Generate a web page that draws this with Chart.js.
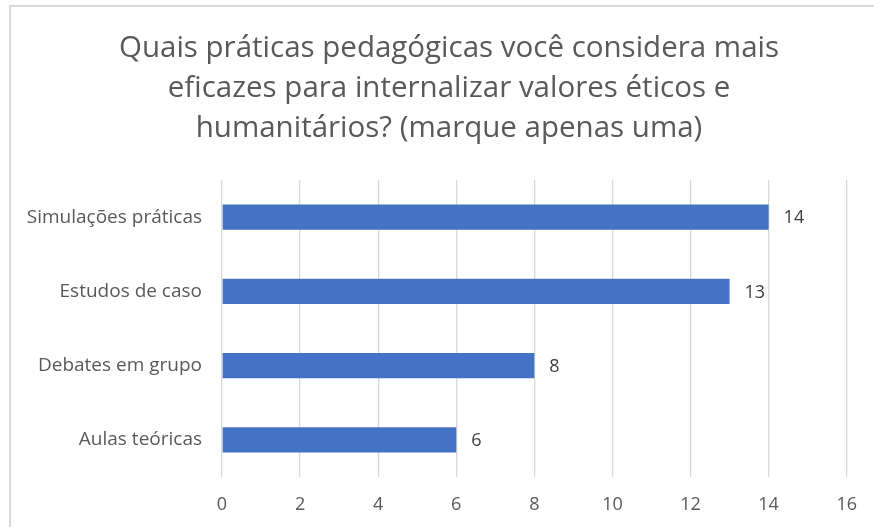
<!DOCTYPE html>
<html>
<head>
<meta charset="utf-8">
<script src="https://cdn.jsdelivr.net/npm/chart.js@4/dist/chart.umd.min.js"></script>
<style>
  html, body { margin: 0; padding: 0; background: #ffffff; }
  canvas { display: block; }
</style>
</head>
<body>
<canvas id="c" width="874" height="527"></canvas>
<script>
const titleLines = [
  'Quais práticas pedagógicas você considera mais',
  'eficazes para internalizar valores éticos e',
  'humanitários? (marque apenas uma)'
];
const categories = ['Simulações práticas', 'Estudos de caso', 'Debates em grupo', 'Aulas teóricas'];
const values = [14, 13, 8, 6];
const xMin = 0;
const xMax = 16;
const xStep = 2;

const FONT = '"Open Sans", "Liberation Sans", sans-serif';
const TEXT = '#595959';

const frame = {
  id: 'frame',
  beforeDraw(chart) {
    const ctx = chart.ctx;
    ctx.save();
    ctx.fillStyle = '#ffffff';
    ctx.fillRect(0, 0, chart.width, chart.height);
    ctx.strokeStyle = '#d9d9d9';
    ctx.lineWidth = 2;
    ctx.beginPath();
    ctx.moveTo(10, chart.height);
    ctx.lineTo(10, 6);
    ctx.lineTo(chart.width, 6);
    ctx.stroke();
    // title, centred on the chart frame
    ctx.font = '29.5px ' + FONT;
    ctx.fillStyle = TEXT;
    ctx.textAlign = 'center';
    ctx.textBaseline = 'alphabetic';
    titleLines.forEach((line, i) => {
      ctx.fillText(line, 449, 57 + i * 40);
    });
    ctx.restore();
  }
};

const valueLabels = {
  id: 'valueLabels',
  afterDatasetsDraw(chart) {
    const ctx = chart.ctx;
    const meta = chart.getDatasetMeta(0);
    ctx.save();
    ctx.font = '18px ' + FONT;
    ctx.fillStyle = '#404040';
    ctx.textAlign = 'left';
    ctx.textBaseline = 'middle';
    meta.data.forEach((bar, i) => {
      ctx.fillText(String(chart.data.datasets[0].data[i]), bar.x + 15, bar.y + 1);
    });
    ctx.restore();
  }
};

new Chart(document.getElementById('c'), {
  type: 'bar',
  data: {
    labels: categories,
    datasets: [{
      data: values,
      backgroundColor: '#4472C4',
      borderWidth: 0,
      barPercentage: 0.337,
      categoryPercentage: 1
    }]
  },
  options: {
    indexAxis: 'y',
    responsive: false,
    animation: false,
    layout: { padding: { left: 0, right: 25, top: 180, bottom: 0 } },
    plugins: {
      legend: { display: false },
      tooltip: { enabled: false },
      title: { display: false }
    },
    scales: {
      x: {
        min: xMin,
        max: xMax,
        ticks: { stepSize: xStep, color: TEXT, font: { family: FONT, size: 18 }, padding: 17 },
        grid: { color: '#d9d9d9', lineWidth: 1.3, drawTicks: false },
        border: { display: false },
        afterFit(scale) { scale.height = 50; }
      },
      y: {
        ticks: { color: TEXT, font: { family: FONT, size: 19 }, padding: 20 },
        grid: { display: false, drawTicks: false },
        border: { display: false },
        afterFit(scale) { scale.width = 222; }
      }
    }
  },
  plugins: [frame, valueLabels]
});
</script>
</body>
</html>
